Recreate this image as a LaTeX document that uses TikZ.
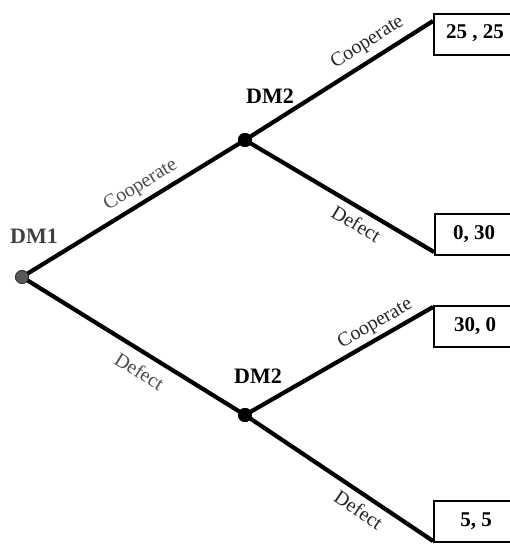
\documentclass[tikz,border=0pt]{standalone}
\usepackage{fontspec}
\setmainfont{Liberation Serif}
\begin{document}
\begin{tikzpicture}[x=1pt,y=-1pt,
  branch/.style={line width=4.2pt},
  dmone/.style={circle,fill=black!65,draw=black!80,line width=0.8pt,minimum size=13pt,inner sep=0pt},
  dmtwo/.style={circle,fill=black,minimum size=14pt,inner sep=0pt},
  dmlabel/.style={font=\fontsize{22}{24}\selectfont\bfseries},
  mv/.style={font=\fontsize{20}{22}\selectfont,sloped,inner sep=1pt},
  payoff/.style={draw,line width=2.2pt,minimum width=90pt,minimum height=41pt,inner sep=0pt},
  paytext/.style={font=\fontsize{21}{23}\selectfont\bfseries}
]
\useasboundingbox (0,0) rectangle (510,545);
\clip (0,0) rectangle (510,545);
\node[dmone] (d1) at (22,277) {};
\node[dmtwo] (d2a) at (245,140) {};
\node[dmtwo] (d2b) at (245,415) {};
\node[dmlabel,text=black!75] (l1) at (34,236) {DM1};
\node[dmlabel] (l2a) at (270,96) {DM2};
\node[dmlabel] (l2b) at (258,376) {DM2};
\node[payoff,anchor=north west] (p1) at (433,13) {};
\node[payoff,anchor=north west] (p2) at (434,213) {};
\node[payoff,anchor=north west] (p3) at (433,305) {};
\node[payoff,anchor=north west] (p4) at (433,500) {};
\node[paytext] (t1) at (475,33) {25 , 25};
\node[paytext] (t2) at (474,234) {0, 30};
\node[paytext] (t3) at (475,326) {30, 0};
\node[paytext] (t4) at (476,521) {5, 5};
\coordinate (c1) at (433,21);
\coordinate (c2) at (434,252);
\coordinate (c3) at (433,307);
\coordinate (c4) at (433,541);
\draw[branch] (d1.center) -- node[mv,above=4pt,pos=0.57,text=black!70] {Cooperate} (d2a.center);
\draw[branch] (d1.center) -- node[mv,below=8pt,pos=0.57,text=black!70] {Defect} (d2b.center);
\draw[branch] (d2a.center) -- node[mv,above=5pt,pos=0.70,text=black!85] {Cooperate} (c1);
\draw[branch] (d2a.center) -- node[mv,below=5pt,pos=0.63,text=black!85] {Defect} (c2);
\draw[branch] (d2b.center) -- node[mv,above=2pt,pos=0.73,text=black!85] {Cooperate} (c3);
\draw[branch] (d2b.center) -- node[mv,below=5pt,pos=0.65,text=black!85] {Defect} (c4);
\node[dmone] at (d1) {};
\node[dmtwo] at (d2a) {};
\node[dmtwo] at (d2b) {};
\end{tikzpicture}
\end{document}
